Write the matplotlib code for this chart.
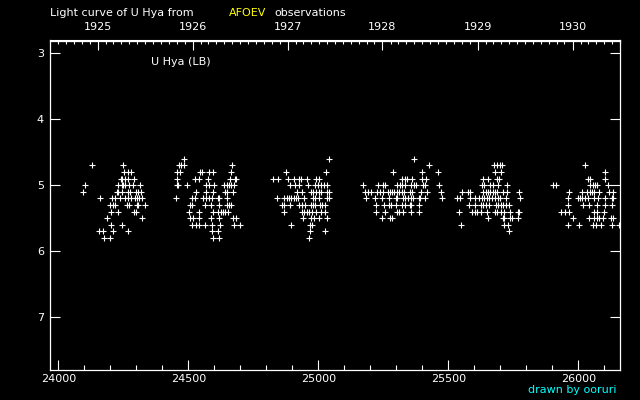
import datetime as dt
import matplotlib
matplotlib.use("Agg")
import matplotlib.pyplot as plt

# ---- data: JD-2400000 of observations, grouped by visual magnitude ----
season_1925 = {
    4.7: [24130, 24250],
    4.8: [24252, 24266, 24280],
    4.9: [24239, 24246, 24256, 24269, 24289],
    5.0: [24103, 24230, 24243, 24248, 24258, 24271, 24288, 24314],
    5.1: [24096, 24226, 24230, 24246, 24269, 24276, 24298, 24308, 24319],
    5.2: [24161, 24208, 24219, 24237, 24257, 24267, 24278, 24293, 24301, 24311, 24321],
    5.3: [24198, 24211, 24216, 24262, 24273, 24301, 24308, 24334],
    5.4: [24202, 24230, 24289, 24297],
    5.5: [24188, 24323],
    5.6: [24203, 24246],
    5.7: [24157, 24173, 24211, 24269],
    5.8: [24176, 24200],
}
season_1926 = {
    4.6: [24484],
    4.7: [24464, 24473, 24482, 24669],
    4.8: [24458, 24469, 24544, 24552, 24580, 24596, 24665],
    4.9: [24455, 24526, 24542, 24576, 24661, 24679, 24683],
    5.0: [24457, 24460, 24496, 24567, 24579, 24598, 24638, 24647, 24656, 24665, 24675],
    5.1: [24530, 24566, 24596, 24640, 24647, 24670],
    5.2: [24453, 24515, 24525, 24555, 24566, 24580, 24590, 24614, 24618, 24647],
    5.3: [24506, 24515, 24562, 24588, 24619, 24647, 24655, 24662],
    5.4: [24503, 24541, 24593, 24615, 24624, 24633, 24642, 24651],
    5.5: [24507, 24516, 24542, 24587, 24619, 24673, 24683],
    5.6: [24514, 24529, 24539, 24564, 24592, 24623, 24677, 24698],
    5.7: [24589, 24615],
    5.8: [24593, 24619],
}
season_1927 = {
    4.6: [25042],
    4.8: [24874, 25029],
    4.9: [24827, 24846, 24884, 24907, 24927, 24934, 24957, 24991, 25004],
    5.0: [24892, 24910, 24927, 24961, 24987, 24998, 25010, 25021, 25033],
    5.1: [24916, 24936, 24970, 24980, 24991, 25001, 25011, 25033, 25041],
    5.2: [24839, 24869, 24878, 24887, 24896, 24905, 24914, 24923, 24946,
          24978, 24987, 25002, 25032, 25039],
    5.3: [24860, 24869, 24892, 24927, 24938, 24948, 24970, 24978, 24988,
          25006, 25015, 25027],
    5.4: [24866, 24936, 24945, 24955, 24965, 24975, 24992, 25011, 25025],
    5.5: [24939, 24971, 24982, 25004, 25033],
    5.6: [24896, 24969, 24977],
    5.7: [24969, 25027],
    5.8: [24965],
}
season_1928 = {
    4.6: [25369],
    4.7: [25427],
    4.8: [25288, 25400, 25461],
    4.9: [25323, 25332, 25342, 25361, 25397, 25415],
    5.0: [25173, 25231, 25249, 25255, 25302, 25314, 25322, 25334, 25356,
          25368, 25377, 25401, 25411, 25465],
    5.1: [25181, 25191, 25201, 25227, 25237, 25247, 25266, 25275, 25283,
          25292, 25301, 25311, 25320, 25329, 25352, 25361, 25396, 25416, 25473],
    5.2: [25184, 25218, 25245, 25272, 25298, 25304, 25324, 25334, 25345,
          25355, 25365, 25386, 25392, 25411, 25474],
    5.3: [25220, 25254, 25270, 25278, 25300, 25323, 25332, 25352, 25356, 25386],
    5.4: [25223, 25257, 25301, 25310, 25327, 25357, 25386],
    5.5: [25246, 25274, 25284],
}
season_1929 = {
    4.7: [25675, 25686, 25698, 25707],
    4.8: [25681, 25702],
    4.9: [25634, 25651, 25688, 25696],
    5.0: [25629, 25638, 25660, 25670, 25692, 25727],
    5.1: [25552, 25575, 25583, 25634, 25643, 25651, 25660, 25670, 25681,
          25688, 25709, 25727, 25773],
    5.2: [25534, 25545, 25583, 25601, 25618, 25628, 25638, 25648, 25657,
          25669, 25681, 25690, 25700, 25723, 25777],
    5.3: [25579, 25601, 25627, 25632, 25645, 25655, 25682, 25692, 25702,
          25711, 25723, 25734],
    5.4: [25542, 25592, 25601, 25611, 25627, 25650, 25678, 25688, 25701,
          25715, 25736, 25766, 25772],
    5.5: [25654, 25709, 25715, 25737, 25745, 25766],
    5.6: [25547, 25715, 25730],
    5.7: [25734],
}
season_1930 = {
    4.7: [26024],
    4.8: [26104],
    4.9: [26036, 26045, 26101],
    5.0: [25904, 25914, 26045, 26055, 26065, 26073, 26115],
    5.1: [25965, 26015, 26034, 26043, 26052, 26061, 26078, 26116, 26134],
    5.2: [25961, 25997, 26006, 26015, 26024, 26037, 26059, 26074, 26102,
          26128, 26134],
    5.3: [25959, 26016, 26042, 26073, 26104, 26129],
    5.4: [25932, 25947, 25965, 26060, 26070, 26100],
    5.5: [25980, 26042, 26060, 26070, 26080, 26096, 26124, 26132],
    5.6: [25961, 26004, 26057, 26066, 26088, 26130, 26158],
}
seasons = [season_1925, season_1926, season_1927, season_1928, season_1929, season_1930]

x_ticks = [24000, 24500, 25000, 25500, 26000]
x_tick_labels = ["24000", "24500", "25000", "25500", "26000"]
y_ticks = [3, 4, 5, 6, 7]
years = [1925, 1926, 1927, 1928, 1929, 1930]

# ---- figure ----
fig = plt.figure(figsize=(6.4, 4.0), dpi=100, facecolor="black")
ax = fig.add_axes([50 / 640, 30 / 400, 570 / 640, 329.5 / 400], facecolor="black")

jd_all, mag_all = [], []
for s in seasons:
    for mag, jds in s.items():
        for j in jds:
            jd_all.append(j)
            mag_all.append(mag)
ax.plot(jd_all, mag_all, linestyle="none", marker="+", markersize=3.8,
        markeredgewidth=0.8, color="white")

ax.set_xlim(23967.7, 26160)
ax.set_ylim(7.8, 2.806)

for sp in ax.spines.values():
    sp.set_color("white")
    sp.set_linewidth(0.9)

ax.set_xticks(x_ticks)
ax.set_xticklabels(x_tick_labels)
ax.set_xticks(list(range(24100, 26160, 100)), minor=True)
ax.tick_params(axis="x", which="major", direction="in", length=7.2, width=0.8,
               colors="white", labelsize=8, pad=3, top=False)
ax.tick_params(axis="x", which="minor", direction="in", length=3.6, width=0.8,
               colors="white", top=False)
ax.set_yticks(y_ticks)
ax.set_yticklabels([str(v) for v in y_ticks])
ax.tick_params(axis="y", which="major", direction="in", length=7.2, width=0.8,
               colors="white", labelsize=8, pad=4.3, right=True)
ax.tick_params(axis="y", which="minor", left=False, right=False)


def to_jd(d):
    return 40587.5 + (d - dt.date(1970, 1, 1)).days


sec = ax.secondary_xaxis("top")
sec.set_xticks([to_jd(dt.date(y, 1, 1)) for y in years])
sec.set_xticklabels([str(y) for y in years])
months = []
for y in range(1924, 1932):
    for m in range(1, 13):
        if m != 1:
            months.append(to_jd(dt.date(y, m, 1)))
sec.set_xticks(months, minor=True)
sec.tick_params(which="major", direction="in", length=7.2, width=0.8,
                colors="white", labelsize=8, pad=6)
sec.tick_params(which="minor", direction="in", length=2.9, width=0.8, colors="white")
sec.spines["top"].set_color("white")

fig.text(50 / 640, 1 - 12.5 / 400, "Light curve of U Hya from", color="white",
         fontsize=8, va="center", ha="left")
fig.text(229 / 640, 1 - 12.5 / 400, "AFOEV", color="#ffff00",
         fontsize=8, va="center", ha="left")
fig.text(274 / 640, 1 - 12.5 / 400, "observations", color="white",
         fontsize=8, va="center", ha="left")
fig.text(151 / 640, 1 - 62 / 400, "U Hya (LB)", color="white",
         fontsize=8, va="center", ha="left")
fig.text(617 / 640, 1 - 390 / 400, "drawn by ooruri", color="#00ffff",
         fontsize=8, va="center", ha="right")

fig.savefig("out.png", dpi=100, facecolor="black")
